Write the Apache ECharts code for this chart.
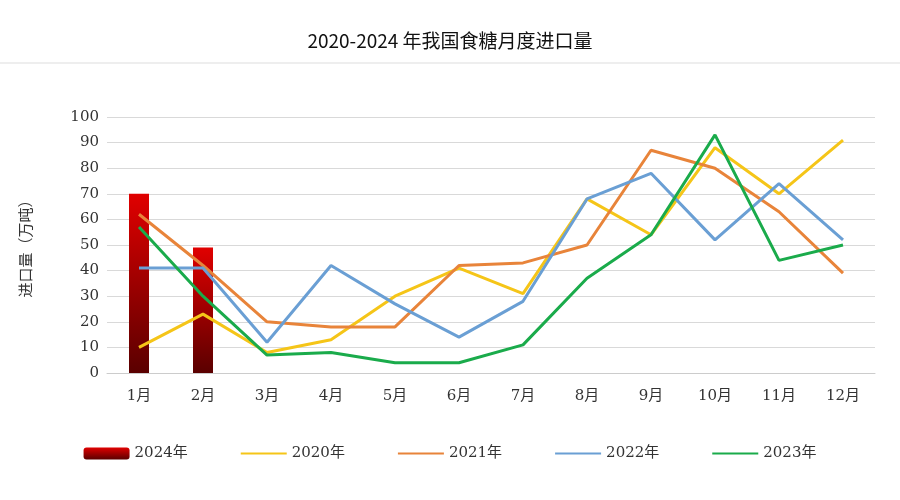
<!DOCTYPE html>
<html>
<head>
<meta charset="utf-8">
<script src="https://cdn.jsdelivr.net/npm/echarts@6/dist/echarts.min.js"></script>
<style>
html, body { margin: 0; padding: 0; background: #fff; }
#chart { width: 900px; height: 500px; }
</style>
</head>
<body>
<div id="chart"></div>
<script>
// 月份
const months = ['1月', '2月', '3月', '4月', '5月', '6月', '7月', '8月', '9月', '10月', '11月', '12月'];
// 各年进口量（万吨）
const y2024 = [70, 49, null, null, null, null, null, null, null, null, null, null];
const y2020 = [10, 23, 8, 13, 30, 41, 31, 68, 54, 88, 70, 91];
const y2021 = [62, 42, 20, 18, 18, 42, 43, 50, 87, 80, 63, 39];
const y2022 = [41, 41, 12, 42, 27, 14, 28, 68, 78, 52, 74, 52];
const y2023 = [57, 30, 7, 8, 4, 4, 11, 37, 54, 93, 44, 50];

function lineSeries(name, data, color) {
    return {
        name: name,
        type: 'line',
        data: data,
        symbol: 'none',
        lineStyle: { color: color, width: 3 },
        itemStyle: { color: color }
    };
}

function initChart() {
    const chart = echarts.init(document.getElementById('chart'));
    const serifFont = '"DejaVu Serif", "Noto Sans CJK SC", serif';

    const option = {
        backgroundColor: '#fff',
        title: {
            text: '2020-2024 年我国食糖月度进口量',
            left: 'center',
            top: 26,
            textStyle: { fontSize: 19, fontWeight: 'normal', color: '#111', fontFamily: '"Noto Sans CJK SC", sans-serif' }
        },
        graphic: [{
            type: 'line',
            shape: { x1: 0, y1: 63, x2: 900, y2: 63 },
            style: { stroke: '#ddd', lineWidth: 1 }
        }],
        legend: {
            bottom: 34,
            left: 'center',
            itemWidth: 46,
            itemHeight: 12,
            itemGap: 52,
            textStyle: { fontSize: 15, color: '#333', fontFamily: serifFont },
            data: [
                { name: '2024年' },
                { name: '2020年', itemStyle: { opacity: 0 } },
                { name: '2021年', itemStyle: { opacity: 0 } },
                { name: '2022年', itemStyle: { opacity: 0 } },
                { name: '2023年', itemStyle: { opacity: 0 } }
            ]
        },
        grid: { left: 107, right: 25, top: 117, bottom: 127 },
        xAxis: {
            type: 'category',
            data: months,
            axisLine: { lineStyle: { color: '#ccc' } },
            axisTick: { show: false },
            axisLabel: { color: '#333', fontSize: 15, margin: 16, fontFamily: serifFont }
        },
        yAxis: {
            type: 'value',
            min: 0,
            max: 100,
            interval: 10,
            name: '进口量（万吨）',
            nameLocation: 'middle',
            nameGap: 72,
            nameTextStyle: { fontSize: 15, color: '#333', fontFamily: serifFont },
            axisLine: { show: false },
            axisTick: { show: false },
            axisLabel: { color: '#333', fontSize: 15, fontFamily: serifFont },
            splitLine: { lineStyle: { color: '#d9d9d9' } }
        },
        series: [
            {
                name: '2024年',
                type: 'bar',
                data: y2024,
                barWidth: 20,
                itemStyle: {
                    color: new echarts.graphic.LinearGradient(0, 0, 0, 1, [
                        { offset: 0, color: '#e00000' },
                        { offset: 1, color: '#5a0000' }
                    ])
                }
            },
            lineSeries('2020年', y2020, '#f5c518'),
            lineSeries('2021年', y2021, '#e8843a'),
            lineSeries('2022年', y2022, '#6a9fd4'),
            lineSeries('2023年', y2023, '#1aab4b')
        ]
    };

    chart.setOption(option);
}

window.onload = function() {
    initChart();
};
</script>
</body>
</html>
